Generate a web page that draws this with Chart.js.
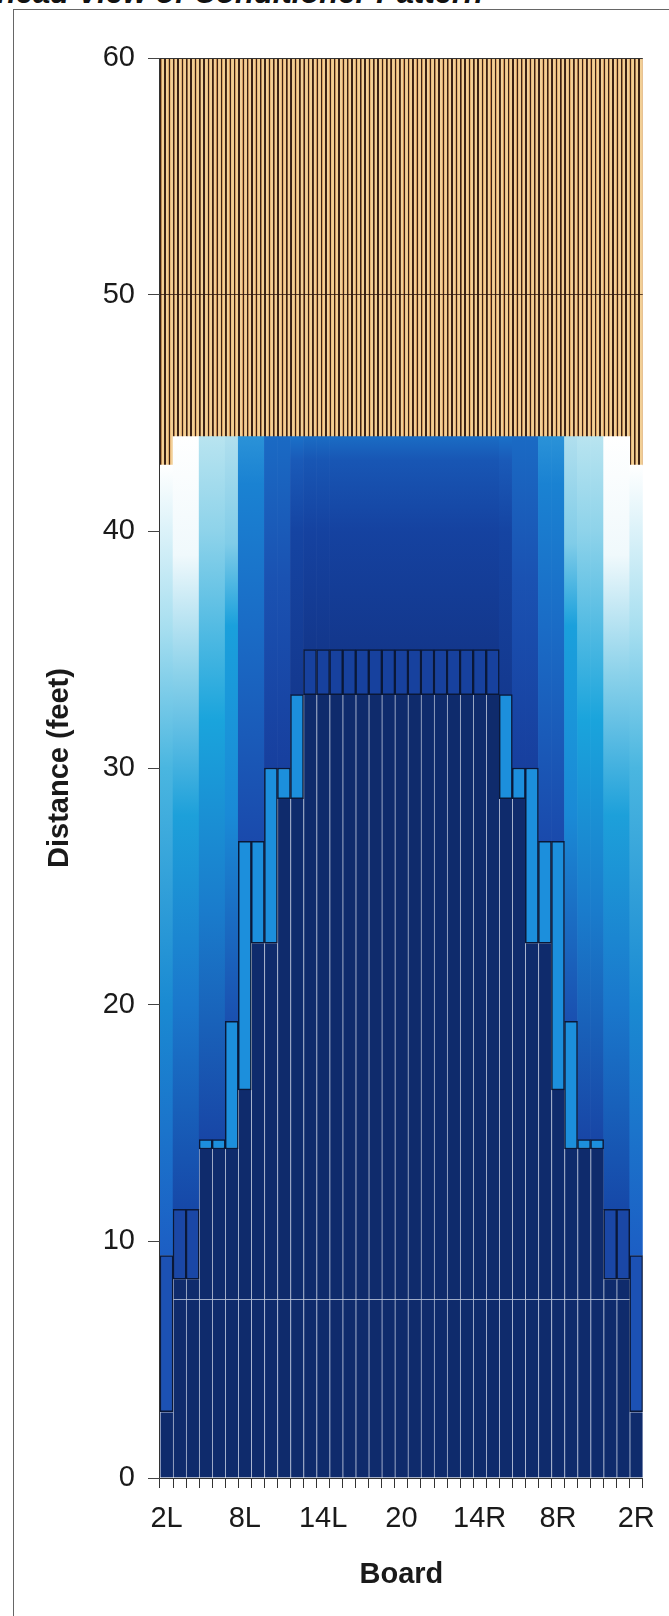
<!DOCTYPE html>
<html>
<head>
<meta charset="utf-8">
<script src="https://cdn.jsdelivr.net/npm/chart.js@4.4.1/dist/chart.umd.min.js"></script>
<style>
html, body { margin: 0; padding: 0; background: #fff; }
#wrap { position: relative; width: 669px; height: 1616px; overflow: hidden; }
#frame { position: absolute; left: 13px; top: 9px; right: -2px; bottom: -2px; border-left: 1px solid #666; border-top: 1px solid #666; }
#title { position: absolute; right: 186px; top: -23px; font: italic bold 31px "Liberation Sans", Arial, sans-serif; line-height: 31px; white-space: nowrap; color: #111; }
canvas { position: absolute; left: 0; top: 0; }
</style>
</head>
<body>
<div id="wrap">
  <div id="title">Overhead View of Conditioner Pattern</div>
  <div id="frame"></div>
  <canvas id="myChart" width="669" height="1616"></canvas>
</div>
<script>
// tablas de la pista, de 2L a 2R
const boards = ["2L","3L","4L","5L","6L","7L","8L","9L","10L","11L","12L","13L","14L","15L","16L","17L","18L","19L",
  "20","19R","18R","17R","16R","15R","14R","13R","12R","11R","10R","9R","8R","7R","6R","5R","4R","3R","2R"];

// distancias en pies
const lineFeet = 7.55;
const oilTop = [2.8, 8.4, 8.4, 13.9, 13.9, 13.9, 16.4, 22.6, 22.6, 28.7, 28.7,
  33.1, 33.1, 33.1, 33.1, 33.1, 33.1, 33.1, 33.1, 33.1, 33.1, 33.1, 33.1, 33.1, 33.1, 33.1,
  28.7, 28.7, 22.6, 22.6, 16.4, 13.9, 13.9, 13.9, 8.4, 8.4, 2.8];
const boxTop = [9.4, 11.35, 11.35, 14.3, 14.3, 19.3, 26.9, 26.9, 30.0, 30.0, 33.1,
  35.0, 35.0, 35.0, 35.0, 35.0, 35.0, 35.0, 35.0, 35.0, 35.0, 35.0, 35.0, 35.0, 35.0, 35.0,
  33.1, 30.0, 30.0, 26.9, 26.9, 19.3, 14.3, 14.3, 11.35, 11.35, 9.4];
const bufferTop = [42.8, 44, 44, 44, 44, 44, 44, 44, 44, 44, 44, 44, 44, 44, 44, 44, 44, 44, 44,
  44, 44, 44, 44, 44, 44, 44, 44, 44, 44, 44, 44, 44, 44, 44, 44, 44, 42.8];
const laneEnd = 60;

// estilos por zona de tablas
const zone = [0,1,1,2,2,3,4,4,5,5,6, 7,7,7,7,7,7,7,7,7,7,7,7,7,7,7, 6,5,5,4,4,3,2,2,1,1,0];
const ramps = [
  [[9.4,"#1c5ec4"],[20,"#1a8ad2"],[30,"#4ab6e0"],[36,"#a8dff0"],[42.8,"#ffffff"]],
  [[11.35,"#1648a8"],[20,"#1a78cc"],[28,"#1da0da"],[34,"#8cd2ea"],[39,"#f0f9fc"],[44,"#ffffff"]],
  [[14.3,"#1846a6"],[24,"#1a7ccc"],[32,"#1aa4dc"],[40,"#8ed3ea"],[44,"#b8e4f0"]],
  [[19.3,"#1a50b0"],[28,"#1a8ad6"],[36,"#1aa0dc"],[39.5,"#80cce8"],[44,"#b0dfee"]],
  [[26.9,"#1a4aac"],[36,"#1a6cc6"],[42,"#1a82d2"],[44,"#2a92d8"]],
  [[30,"#173f9e"],[38,"#1a52b2"],[44,"#1a6ac4"]],
  [[33.1,"#14398f"],[40,"#1544a2"],[43,"#1a5ab8"],[44,"#1a70c8"]],
  [[35,"#13378c"],[40,"#1542a0"],[43,"#1856b4"],[44,"#1a6cc4"]]
];
const boxColor = ["#1c51b4","#1a47a6","#1c8fdc","#1c8fdc","#1c8fdc","#1c8fdc","#1c8fdc","#17419e"];
const fontFam = '"Liberation Sans", Arial, sans-serif';

const darkLow = boards.map((b, i) => [0, Math.min(lineFeet, oilTop[i])]);
const darkHigh = boards.map((b, i) => oilTop[i] > lineFeet ? [lineFeet, oilTop[i]] : null);
const boxes = boards.map((b, i) => [oilTop[i], boxTop[i]]);
const upper = boards.map((b, i) => [boxTop[i], bufferTop[i]]);
const wood = boards.map((b, i) => [bufferTop[i], laneEnd]);

let cache = {};

function upperColor(c) {
  const chart = c.chart;
  if (!chart.chartArea) return "#1545a5";
  const z = zone[c.dataIndex];
  const key = z + "_" + chart.chartArea.bottom;
  if (!cache[key]) {
    const y = chart.scales.y;
    const g = chart.ctx.createLinearGradient(0, y.getPixelForValue(0), 0, y.getPixelForValue(laneEnd));
    ramps[z].forEach(s => g.addColorStop(s[0] / laneEnd, s[1]));
    cache[key] = g;
  }
  return cache[key];
}

function woodColor(c) {
  const chart = c.chart;
  const area = chart.chartArea;
  if (!area) return "#f2cd92";
  const key = "wood_" + area.right;
  if (!cache[key]) {
    const g = chart.ctx.createLinearGradient(area.left, 0, area.right, 0);
    const n = boards.length * 3;
    for (let k = 0; k < n; k++) {
      const s = k / n, w = 1 / n;
      g.addColorStop(s, "#3b2114");
      g.addColorStop(s + w * 0.28, "#3b2114");
      g.addColorStop(s + w * 0.36, "#d9a060");
      g.addColorStop(s + w * 0.48, "#f3d199");
      g.addColorStop(s + w * 0.9, "#f1cc90");
      g.addColorStop(Math.min(1, s + w * 0.99), "#c8884c");
    }
    cache[key] = g;
  }
  return cache[key];
}

// linea del eje y, pegada al area del grafico
const axisLine = {
  id: "axisLine",
  afterDatasetsDraw(chart) {
    const { ctx, chartArea } = chart;
    ctx.save();
    ctx.strokeStyle = "#333";
    ctx.lineWidth = 1;
    ctx.beginPath();
    ctx.moveTo(chartArea.left - 0.5, chartArea.top);
    ctx.lineTo(chartArea.left - 0.5, chartArea.bottom);
    ctx.stroke();
    ctx.restore();
  }
};

const base = { grouped: false, barPercentage: 1, categoryPercentage: 1, borderSkipped: false };

const config = {
  type: "bar",
  data: {
    labels: boards,
    datasets: [
      Object.assign({ label: "box", data: boxes, backgroundColor: c => boxColor[zone[c.dataIndex]],
        borderColor: "#0a1838", borderWidth: 1.5 }, base),
      Object.assign({ label: "oil", data: darkHigh, backgroundColor: "#0f2b6c",
        borderColor: "rgba(140,155,190,0.55)", borderWidth: { left: 1, right: 0, top: 0, bottom: 0 } }, base),
      Object.assign({ label: "oil low", data: darkLow, backgroundColor: "#0f2b6c",
        borderColor: "rgba(150,165,200,0.6)", borderWidth: { left: 1, right: 0, top: 1, bottom: 0 } }, base),
      Object.assign({ label: "buffer", data: upper, backgroundColor: upperColor, borderWidth: 0 }, base),
      Object.assign({ label: "wood", data: wood, backgroundColor: woodColor, borderWidth: 0 }, base)
    ]
  },
  options: {
    responsive: false,
    devicePixelRatio: 1,
    animation: false,
    layout: { padding: { top: 58, right: 16, left: 0, bottom: 0 } },
    plugins: { legend: { display: false }, tooltip: { enabled: false } },
    scales: {
      x: {
        offset: true,
        grid: { offset: true, drawOnChartArea: false, tickLength: 10, tickColor: "#333" },
        border: { display: true, color: "#333", width: 1 },
        ticks: {
          autoSkip: false, maxRotation: 0, padding: 14, color: "#1a1a1a",
          font: { family: fontFam, size: 29 },
          callback: function (value, index) { return index % 6 === 0 ? this.getLabelForValue(value) : ""; }
        },
        title: { display: true, text: "Board", color: "#1a1a1a",
          font: { family: fontFam, size: 29, weight: "bold" }, padding: { top: 0, bottom: 24 } },
        afterFit: s => { s.height = 138; }
      },
      y: {
        min: 0, max: 60,
        grid: {
          z: 1, tickLength: 12, tickColor: "#444",
          color: c => c.tick && c.tick.value === 50 ? "rgba(50,25,15,0.8)" : (c.tick && c.tick.value === 60 ? "#333" : "rgba(0,0,0,0)")
        },
        border: { display: false },
        ticks: { stepSize: 10, padding: 13, color: "#1a1a1a", font: { family: fontFam, size: 29 } },
        title: { display: true, text: "Distance (feet)", color: "#1a1a1a",
          font: { family: fontFam, size: 29, weight: "bold" }, padding: { top: 43, bottom: 0 } },
        afterFit: s => { s.width = 160; }
      }
    }
  },
  plugins: [axisLine]
};

const myChart = new Chart(document.getElementById("myChart"), config);
</script>
</body>
</html>
